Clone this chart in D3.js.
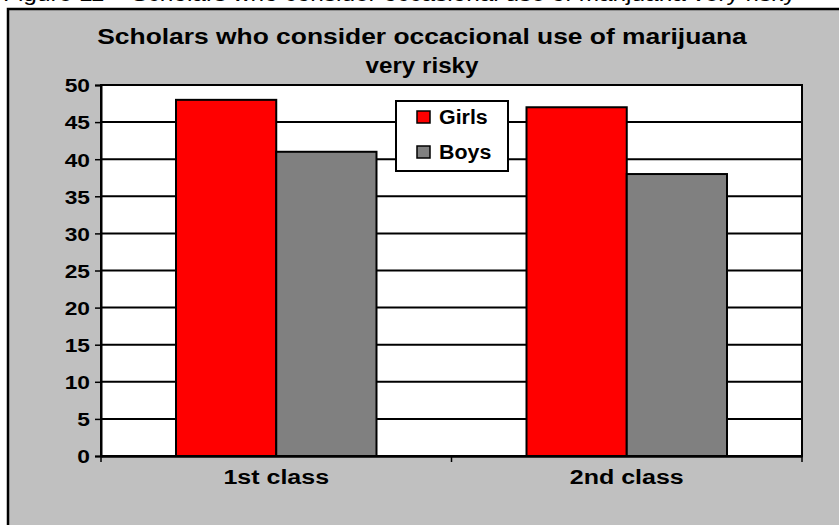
<!DOCTYPE html>
<html><head><meta charset="utf-8">
<script src="https://cdn.jsdelivr.net/npm/d3@7"></script>
<style>body{margin:0;background:#fff;}svg{display:block;}</style>
</head><body>
<script>
const categories = ["1st class", "2nd class"];
const seriesNames = ["Girls", "Boys"];
const girls = [48, 47];
const boys = [41, 38];
const yTicks = [0, 5, 10, 15, 20, 25, 30, 35, 40, 45, 50];
const colors = ["#FF0000", "#808080"];
const titleLines = ["Scholars who consider occacional use of marijuana", "very risky"];
const caption = "Figure 11 – Scholars who consider occasional use of marijuana very risky";

const W = 839, H = 525;
const svg = d3.select("body").append("svg").attr("width", W).attr("height", H);
const font = "Arial, 'Liberation Sans', sans-serif";
const SX = 1.2; // horizontal stretch of the reference's lettering

function stretchedText(g, x, y, str, size, weight, anchor, sx) {
  return g.append("text")
    .attr("transform", `translate(${x},${y}) scale(${sx},1)`)
    .attr("text-anchor", anchor).attr("font-family", font).attr("font-size", size)
    .attr("font-weight", weight).attr("fill", "#000").text(str);
}

// caption (cut off at top, as in the reference)
stretchedText(svg, 3, 0.5, caption, 20, "normal", "start", 1.22);

// chart area frame
svg.append("rect").attr("x", 8).attr("y", 9).attr("width", W + 10).attr("height", H + 10)
  .attr("fill", "#C0C0C0").attr("stroke", "#000").attr("stroke-width", 2.5);

const plot = {left: 101, right: 802, top: 85, bottom: 456};

const x0 = d3.scaleBand().domain(categories).range([plot.left, plot.right])
  .paddingInner(0.428).paddingOuter(0.214);
const x1 = d3.scaleBand().domain(seriesNames).range([0, x0.bandwidth()]);
const y = d3.scaleLinear().domain([0, 50]).range([plot.bottom, plot.top]);

svg.append("rect").attr("x", plot.left).attr("y", plot.top)
  .attr("width", plot.right - plot.left).attr("height", plot.bottom - plot.top)
  .attr("fill", "#fff").attr("stroke", "#000").attr("stroke-width", 2);

// gridlines
svg.append("g").selectAll("line").data(yTicks).join("line")
  .attr("x1", plot.left).attr("x2", plot.right)
  .attr("y1", d => y(d)).attr("y2", d => y(d))
  .attr("stroke", "#000").attr("stroke-width", 2);

// bars
const data = categories.map((c, i) => ({cat: c, vals: [girls[i], boys[i]]}));
svg.append("g").selectAll("g").data(data).join("g")
  .attr("transform", d => `translate(${x0(d.cat)},0)`)
  .selectAll("rect").data(d => d.vals.map((v, j) => ({s: seriesNames[j], v, j})))
  .join("rect")
  .attr("x", d => x1(d.s)).attr("width", x1.bandwidth())
  .attr("y", d => y(d.v)).attr("height", d => y(0) - y(d.v))
  .attr("fill", d => colors[d.j]).attr("stroke", "#000").attr("stroke-width", 2);

// y axis
const yAxis = svg.append("g").attr("transform", `translate(${plot.left},0)`)
  .call(d3.axisLeft(y).tickValues(yTicks).tickSize(6).tickPadding(4).tickFormat(d3.format("d")));
yAxis.select(".domain").attr("stroke", "#000").attr("stroke-width", 2);
yAxis.selectAll(".tick line").attr("stroke", "#000").attr("stroke-width", 1.5);
yAxis.selectAll(".tick text")
  .attr("x", -11 / SX).attr("transform", `scale(${SX},1)`)
  .attr("font-family", font).attr("font-size", 19).attr("font-weight", "bold").attr("fill", "#000").attr("dy", "0.36em");

// x axis
const xAxis = svg.append("g").attr("transform", `translate(0,${plot.bottom})`)
  .call(d3.axisBottom(x0).tickSize(0).tickPadding(14));
xAxis.select(".domain").attr("stroke", "#000").attr("stroke-width", 2.5);
xAxis.selectAll(".tick text")
  .attr("transform", `scale(${SX + 0.05},1)`)
  .attr("font-family", font).attr("font-size", 20).attr("font-weight", "bold").attr("fill", "#000").attr("dy", "0.71em");
// category boundary ticks
const bounds = [plot.left, (x0(categories[0]) + x0.bandwidth() + x0(categories[1])) / 2, plot.right];
svg.append("g").selectAll("line").data(bounds).join("line")
  .attr("x1", d => d).attr("x2", d => d).attr("y1", plot.bottom).attr("y2", plot.bottom + 6)
  .attr("stroke", "#000").attr("stroke-width", 1.5);

// title
const tg = svg.append("g");
titleLines.forEach((t, i) => stretchedText(tg, 422, 44 + i * 29, t, 22, "bold", "middle", i === 0 ? SX : 1.1));

// legend
const lg = svg.append("g").attr("transform", "translate(396,101)");
lg.append("rect").attr("width", 112).attr("height", 70).attr("fill", "#fff").attr("stroke", "#000").attr("stroke-width", 2);
const items = lg.selectAll("g").data(seriesNames).join("g")
  .attr("transform", (d, i) => `translate(0,${10 + i * 35})`);
items.append("rect").attr("x", 21).attr("y", 0).attr("width", 13).attr("height", 12)
  .attr("fill", (d, i) => colors[i]).attr("stroke", "#000").attr("stroke-width", 1.5);
items.append("text").attr("transform", "translate(43,13) scale(1.07,1)")
  .attr("font-family", font).attr("font-size", 20)
  .attr("font-weight", "bold").attr("fill", "#000").text(d => d);
</script>
</body></html>
